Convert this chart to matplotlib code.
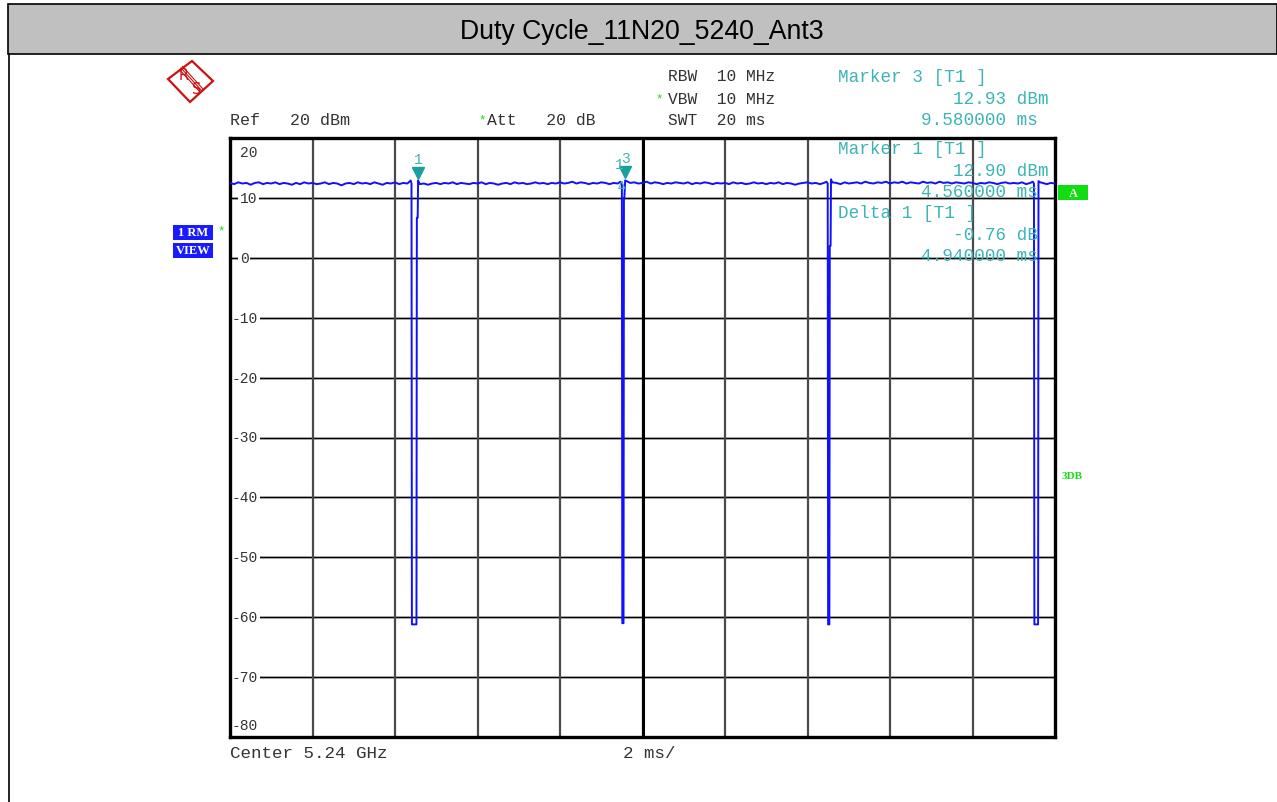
import numpy as np
import matplotlib.pyplot as plt
from matplotlib.patches import Rectangle, Polygon
from matplotlib.lines import Line2D
import matplotlib.transforms as mtransforms

# ---- data ----
title = 'Duty Cycle_11N20_5240_Ant3'
sweep_ms = 20.0
y_ticks = [20, 10, 0, -10, -20, -30, -40, -50, -60, -70, -80]
x_grid = [0, 2, 4, 6, 8, 10, 12, 14, 16, 18, 20]

# flat part of the trace, one reading every 0.1 ms (dBm)
base_db = [12.5, 12.3, 12.6, 12.4, 12.5, 12.2, 12.5, 12.6, 12.3, 12.5,
           12.4, 12.6, 12.3, 12.5, 12.4, 12.2, 12.5, 12.3, 12.6, 12.4,
           12.5, 12.3, 12.4, 12.6, 12.3, 12.5, 12.4, 12.1, 12.4, 12.5,
           12.3, 12.6, 12.4, 12.5, 12.3, 12.6, 12.4, 12.2, 12.5, 12.4,
           12.6, 12.3, 12.5, 12.4, 12.6, 12.5, 12.3, 12.4, 12.2, 12.4,
           12.5, 12.3, 12.5, 12.4, 12.6, 12.3, 12.5, 12.4, 12.3, 12.5,
           12.4, 12.6, 12.3, 12.5, 12.4, 12.2, 12.4, 12.5, 12.3, 12.6,
           12.4, 12.5, 12.3, 12.4, 12.6, 12.4, 12.5, 12.3, 12.5, 12.4,
           12.6, 12.4, 12.5, 12.7, 12.4, 12.6, 12.5, 12.3, 12.5, 12.4,
           12.6, 12.5, 12.3, 12.5, 12.4, 12.6, 12.3, 12.5, 12.6, 12.4,
           12.5, 12.7, 12.4, 12.6, 12.5, 12.3, 12.5, 12.4, 12.6, 12.5,
           12.4, 12.6, 12.3, 12.5, 12.4, 12.6, 12.5, 12.3, 12.5, 12.4,
           12.5, 12.3, 12.6, 12.4, 12.5, 12.3, 12.4, 12.6, 12.4, 12.5,
           12.3, 12.5, 12.4, 12.6, 12.3, 12.5, 12.4, 12.2, 12.4, 12.5,
           12.6, 12.4, 12.5, 12.3, 12.5, 12.6, 12.4, 12.5, 12.3, 12.6,
           12.4, 12.5, 12.6, 12.4, 12.7, 12.5, 12.4, 12.6, 12.5, 12.7,
           12.4, 12.6, 12.5, 12.7, 12.4, 12.6, 12.5, 12.4, 12.7, 12.5,
           12.6, 12.4, 12.7, 12.5, 12.6, 12.4, 12.6, 12.5, 12.4, 12.6,
           12.5, 12.3, 12.5, 12.4, 12.6, 12.5, 12.3, 12.5, 12.6, 12.4,
           12.5, 12.4, 12.6, 12.3, 12.5, 12.4, 12.6, 12.5, 12.3, 12.5,
           12.4]
base_t = np.linspace(0, sweep_ms, len(base_db))

# the four off-periods (time ms, level dBm)
dip1_t = [4.38, 4.40, 4.41, 4.52, 4.53, 4.55, 4.56]
dip1_db = [12.9, 12.4, -61.2, -61.2, 6.7, 6.7, 12.9]
dip2_t = [9.46, 9.50, 9.51, 9.54, 9.55, 9.56, 9.58]
dip2_db = [12.7, 12.14, -61.0, -61.0, 10.0, 10.0, 12.93]
dip3_t = [14.46, 14.49, 14.50, 14.53, 14.54, 14.56, 14.57, 14.60]
dip3_db = [12.7, 12.4, -61.2, -61.2, 2.0, 2.0, 13.1, 12.6]
dip4_t = [19.46, 19.49, 19.50, 19.59, 19.60, 19.64]
dip4_db = [12.7, 12.4, -61.2, -61.2, 12.8, 12.6]

marker_t = [4.56, 9.58]
marker_db = [12.90, 12.93]
marker_names = ['1', '3']
delta_t = [9.50]
delta_db = [12.14]

# ---- merge trace ----
dips = [(dip1_t, dip1_db), (dip2_t, dip2_db), (dip3_t, dip3_db), (dip4_t, dip4_db)]
keep = np.ones(len(base_t), bool)
for dt, _ in dips:
    keep &= ~((base_t >= dt[0] - 0.03) & (base_t <= dt[-1] + 0.03))
tr_t = list(base_t[keep])
tr_db = list(np.array(base_db)[keep])
for dt, dd in dips:
    tr_t += dt
    tr_db += dd
order = np.argsort(tr_t, kind='stable')
tr_t = np.array(tr_t)[order]
tr_db = np.array(tr_db)[order]

W, H = 1277, 803
fig = plt.figure(figsize=(W / 100, H / 100), dpi=100)
fig.patch.set_facecolor('white')

def fx(x):
    return x / W

def fy(y):
    return 1 - y / H

mono = 'Liberation Mono'
txt_col = '#333333'
teal = '#3cb4b4'
green = '#19d919'
blue = '#1010ff'
red = '#cc1111'

# title bar and page border
fig.patches.append(Rectangle((fx(8), fy(55)), 1 - fx(8), fy(5) - fy(55), transform=fig.transFigure,
                             facecolor='#c0c0c0', edgecolor='black', lw=1.2, zorder=0))
fig.lines.append(Line2D([fx(8.5), fx(8.5)], [0, fy(55)], transform=fig.transFigure, color='black', lw=1.2))
fig.text(fx(642), fy(32), title, ha='center', va='center', fontsize=19.2,
         family='Liberation Sans', color='black')

# R&S logo
logo = Polygon([[fx(168), fy(80)], [fx(192), fy(62)], [fx(213), fy(82)], [fx(190), fy(103)]],
               closed=True, transform=fig.transFigure, facecolor='white', edgecolor=red, lw=1.6)
fig.patches.append(logo)
for off in (-1.5, 0, 1.5):
    fig.lines.append(Line2D([fx(181 + off), fx(202 + off)], [fy(69 - off), fy(92 - off)],
                            transform=fig.transFigure, color=red, lw=0.8))
fig.text(fx(184), fy(76), 'R', fontsize=10.5, color=red, ha='center', va='center', family='DejaVu Sans')
fig.text(fx(197), fy(89), 'S', fontsize=10.5, color=red, ha='center', va='center', family='DejaVu Sans')

# header settings
fs = 12
fs2 = 12.7
fig.text(fx(230), fy(121), 'Ref   20 dBm', family=mono, fontsize=fs, color=txt_col, va='center')
fig.text(fx(478), fy(120), '*', family=mono, fontsize=9, color=green, va='center')
fig.text(fx(487), fy(121), 'Att   20 dB', family=mono, fontsize=11.8, color=txt_col, va='center')
fig.text(fx(668), fy(77), 'RBW  10 MHz', family=mono, fontsize=11.7, color=txt_col, va='center')
fig.text(fx(655), fy(99), '*', family=mono, fontsize=9, color=green, va='center')
fig.text(fx(668), fy(100), 'VBW  10 MHz', family=mono, fontsize=11.7, color=txt_col, va='center')
fig.text(fx(668), fy(121), 'SWT  20 ms', family=mono, fontsize=11.7, color=txt_col, va='center')

# marker readouts
readouts = [(838, 78, 'Marker 3 [T1 ]'), (953, 100, '12.93 dBm'), (921, 121, '9.580000 ms'),
            (838, 150, 'Marker 1 [T1 ]'), (953, 172, '12.90 dBm'), (921, 193, '4.560000 ms'),
            (838, 214, 'Delta 1 [T1 ]'), (953, 236, '-0.76 dB'), (921, 257, '4.940000 ms')]
for x, y, s in readouts:
    fig.text(fx(x), fy(y), s, family=mono, fontsize=fs2, color=teal, va='center', zorder=5)

# side labels
for y0, s in ((226, '1 RM'), (244, 'VIEW')):
    fig.patches.append(Rectangle((fx(173), fy(y0 + 15)), fx(40), fy(0) - fy(15), transform=fig.transFigure,
                                 facecolor='#1a1aff', edgecolor='none'))
    fig.text(fx(193), fy(y0 + 7.5), s, family='Liberation Serif', fontsize=9, weight='bold', color='white',
             ha='center', va='center')
fig.text(fx(221), fy(231), '*', family=mono, fontsize=9, color=green, ha='center', va='center')
fig.patches.append(Rectangle((fx(1058), fy(201)), fx(30), fy(0) - fy(15), transform=fig.transFigure,
                             facecolor='#11dd11', edgecolor='none'))
fig.text(fx(1073), fy(194), 'A', family='Liberation Serif', fontsize=9, weight='bold', color='white',
         ha='center', va='center')
fig.text(fx(1062), fy(477), '3DB', family='Liberation Serif', fontsize=8, weight='bold', color=green,
         va='center')

fig.text(fx(230), fy(754), 'Center 5.24 GHz', family=mono, fontsize=12.6, color=txt_col, va='center')
fig.text(fx(623), fy(754), '2 ms/', family=mono, fontsize=12.6, color=txt_col, va='center')

# ---- plot area ----
ax = fig.add_axes([fx(230), fy(738), fx(1055) - fx(230), fy(139) - fy(738)])
ax.set_xlim(0, sweep_ms)
ax.set_ylim(y_ticks[-1], y_ticks[0])
ax.set_xticks([])
ax.set_yticks([])
for sp in ax.spines.values():
    sp.set_linewidth(2.4)
    sp.set_color('black')

for v in y_ticks[1:-1]:
    ax.axhline(v, color='#cccccc', lw=2.2, zorder=1)
    ax.axhline(v, color='black', lw=1.0, zorder=1)
for v in x_grid[1:-1]:
    ax.axvline(v, color='#4a4a4a', lw=1.6, zorder=1)
ax.axvline(sweep_ms / 2, color='black', lw=2.2, zorder=1)

# level labels inside the grid
for v in y_ticks:
    yy = v
    if v == y_ticks[0]:
        yy = v - 2.3
    elif v == y_ticks[-1]:
        yy = v + 2.0
    xpos = 0.05 if v < 0 else 0.24
    on_line = v not in (y_ticks[0], y_ticks[-1])
    ax.text(xpos, yy, str(v), family=mono, fontsize=10.5, color=txt_col, va='center', ha='left', zorder=2,
            bbox=dict(facecolor='white', edgecolor='none', pad=1.0) if on_line else None)

ax.plot(tr_t, tr_db, color=blue, lw=1.4, zorder=3)

# markers
up = mtransforms.offset_copy(ax.transData, fig=fig, x=0, y=8, units='dots')
lab = mtransforms.offset_copy(ax.transData, fig=fig, x=0, y=22, units='dots')
for t, d, n in zip(marker_t, marker_db, marker_names):
    ax.plot([t], [d], marker='v', ms=8, color='#1a9e9e', transform=up, zorder=4, clip_on=False)
    ax.text(t, d, n, transform=lab, family=mono, fontsize=10.5, color=teal, ha='center', va='center',
            zorder=4, clip_on=False)
lab2 = mtransforms.offset_copy(ax.transData, fig=fig, x=-3, y=21, units='dots')
for t, d in zip(delta_t, delta_db):
    ax.text(t, d, 'Δ', family='DejaVu Sans', fontsize=8, color=teal, ha='center', va='center', zorder=4)
    ax.text(t, d, '1', transform=lab2, family=mono, fontsize=10.5, color=teal, ha='center', va='center',
            zorder=4)

fig.savefig('out.png', dpi=100)
